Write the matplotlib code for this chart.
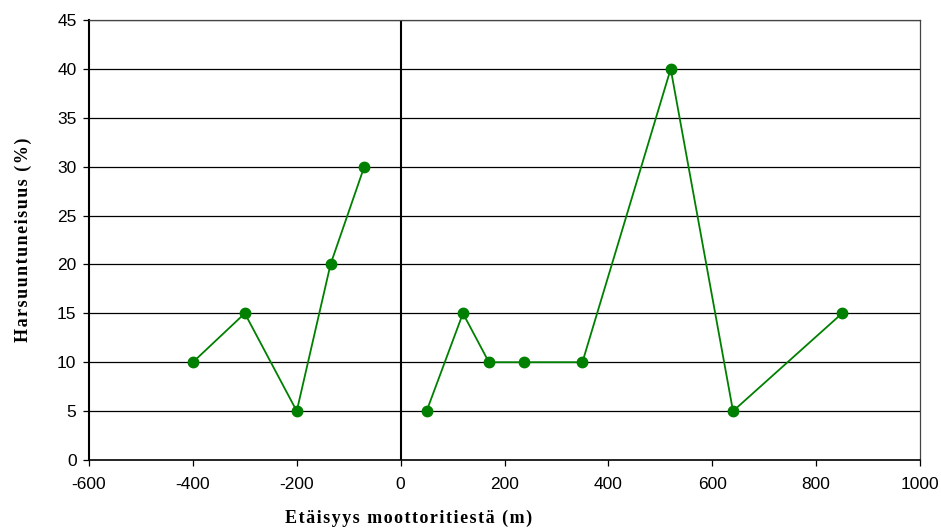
import matplotlib
matplotlib.use("Agg")
import matplotlib.pyplot as plt

# Data
left_x = [-400, -300, -200, -135, -70]
left_y = [10, 15, 5, 20, 30]
right_x = [50, 120, 170, 237, 350, 520, 640, 850]
right_y = [5, 15, 10, 10, 10, 40, 5, 15]
x_ticks = [-600, -400, -200, 0, 200, 400, 600, 800, 1000]
y_ticks = [0, 5, 10, 15, 20, 25, 30, 35, 40, 45]

fig = plt.figure(figsize=(9.41, 5.29), dpi=100)
ax = fig.add_axes([89/941, 1 - 460/529, (920 - 89)/941, (460 - 20)/529])

for y in y_ticks[1:]:
    ax.axhline(y, color="black", lw=0.9, zorder=1)
ax.axvline(0, color="black", lw=1.5, zorder=1)

green = "#008000"
ax.plot(left_x, left_y, color=green, lw=1.3, marker="o", ms=7.5, zorder=3)
ax.plot(right_x, right_y, color=green, lw=1.3, marker="o", ms=7.5, zorder=3)

ax.set_xlim(-600, 1000)
ax.set_ylim(0, 45)
ax.set_xticks(x_ticks)
ax.set_yticks(y_ticks)
ax.set_xticklabels([str(v) for v in x_ticks], family="Liberation Sans", fontsize=12.5)
ax.set_yticklabels([str(v) for v in y_ticks], family="Liberation Sans", fontsize=12.5)
ax.tick_params(axis="x", direction="out", length=4, width=0.9, pad=8)
ax.tick_params(axis="y", direction="out", length=4, width=0.9, pad=5)

for s in ["top", "right"]:
    ax.spines[s].set_linewidth(0.9)
    ax.spines[s].set_color("#444444")
ax.spines["left"].set_linewidth(1.5)
ax.spines["bottom"].set_linewidth(1.2)

xlab = "Etäisyys moottoritiestä (m)"
ax.set_xlabel("\u200a".join(xlab), family="Liberation Serif", fontweight="bold",
              fontsize=13)
ax.xaxis.set_label_coords(0.384, -0.132, transform=ax.transAxes)
ax.xaxis.label.set_va("center")
ylab = "Harsuuntuneisuus (%)"
ax.set_ylabel("\u200a".join(ylab), family="Liberation Serif", fontweight="bold",
              fontsize=13, labelpad=18)

fig.savefig("out.png", dpi=100)
